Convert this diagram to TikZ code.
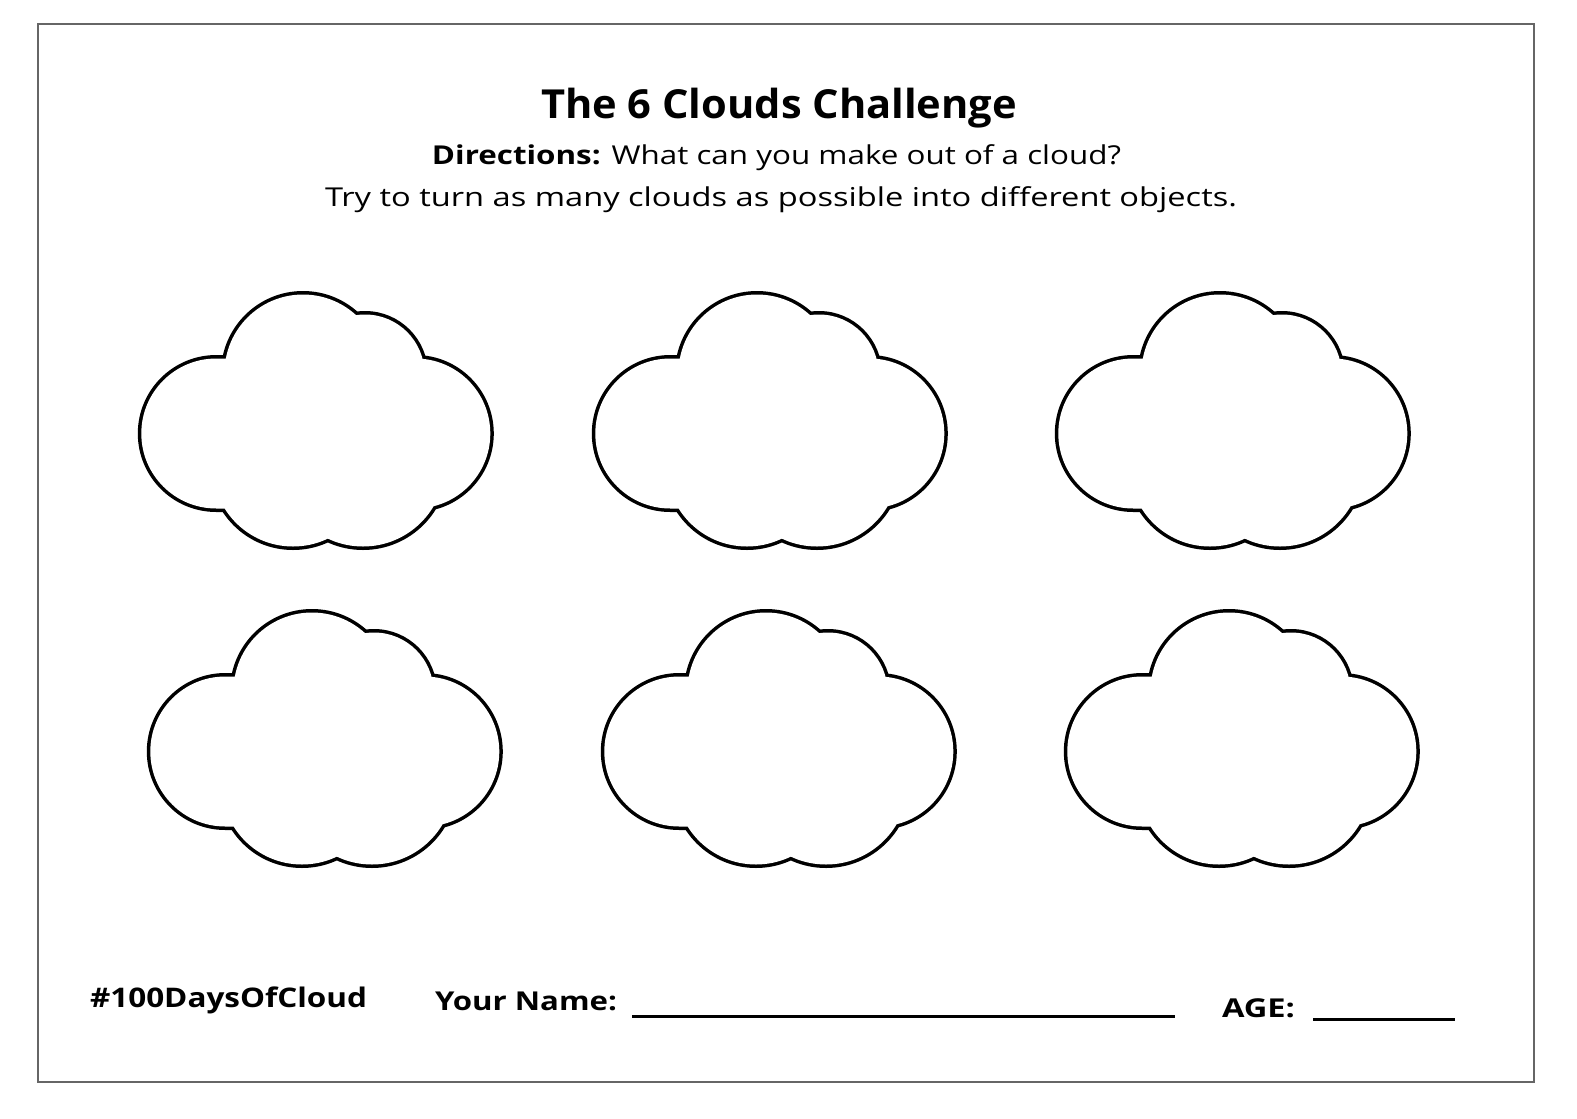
\documentclass[tikz,border=0pt]{standalone}
\usepackage{fontspec}
\usepackage{graphicx}
\setmainfont{Open Sans}
\tikzset{
  cloudink/.style={draw=black, line width=7pt},
  cloudfill/.style={fill=white, draw=none},
  txt/.style={inner sep=0pt, outer sep=0pt, text=black},
  blank/.style={draw=black, line width=2.8pt},
  frame/.style={draw=black!60, line width=2pt},
  pics/cloudpic/.style={code={
    \path[cloudink] [rounded corners=75pt] (-174.5,-75) rectangle (174.5,75) [sharp corners]
      (-12.8,-60.5) circle[radius=78.5pt] (49.2,-59.5) circle[radius=59.5pt]
      (47.2,31) circle[radius=82pt] (-22.8,32.5) circle[radius=80.5pt];
    \path[cloudfill] [rounded corners=75pt] (-174.5,-75) rectangle (174.5,75) [sharp corners]
      (-12.8,-60.5) circle[radius=78.5pt] (49.2,-59.5) circle[radius=59.5pt]
      (47.2,31) circle[radius=82pt] (-22.8,32.5) circle[radius=80.5pt];
  }}
}
\begin{document}
\begin{tikzpicture}[x=1pt,y=-1pt]
\useasboundingbox[fill=white] (0,0) rectangle (1577,1119);
\draw[frame] (38,24) rectangle (1534,1082);
% title lines
\node[txt, anchor=base] (title) at (779,118) {\resizebox{476pt}{\height}{\fontsize{40}{44}\selectfont\bfseries The 6 Clouds Challenge}};
\node[txt, anchor=base] (dir) at (776.5,164) {\resizebox{689pt}{\height}{\fontsize{26}{30}\selectfont\textbf{Directions:} What can you make out of a cloud?}};
\node[txt, anchor=base] (try) at (781,206) {\resizebox{912pt}{\height}{\fontsize{26}{30}\selectfont Try to turn as many clouds as possible into different objects.}};
% clouds
\pic (c1) at (315.8,433.5) {cloudpic};
\pic (c2) at (769.8,433.5) {cloudpic};
\pic (c3) at (1232.8,433.5) {cloudpic};
\pic (c4) at (324.8,751.5) {cloudpic};
\pic (c5) at (778.8,751.5) {cloudpic};
\pic (c6) at (1241.8,751.5) {cloudpic};
% footer
\node[txt, anchor=base west] (tag) at (90,1007) {\resizebox{277pt}{\height}{\fontsize{27}{30}\selectfont\bfseries \#100DaysOfCloud}};
\node[txt, anchor=base west] (name) at (435,1010) {\resizebox{182pt}{\height}{\fontsize{26}{30}\selectfont\bfseries Your Name:}};
\node[txt, anchor=base west] (age) at (1222,1017) {\resizebox{73pt}{\height}{\fontsize{26}{30}\selectfont\bfseries AGE:}};
\coordinate (nameA) at (632,1016.5);
\coordinate (nameB) at (1175,1016.5);
\coordinate (ageA) at (1313,1019.5);
\coordinate (ageB) at (1455,1019.5);
\draw[blank] (nameA) -- (nameB);
\draw[blank] (ageA) -- (ageB);
\end{tikzpicture}
\end{document}
